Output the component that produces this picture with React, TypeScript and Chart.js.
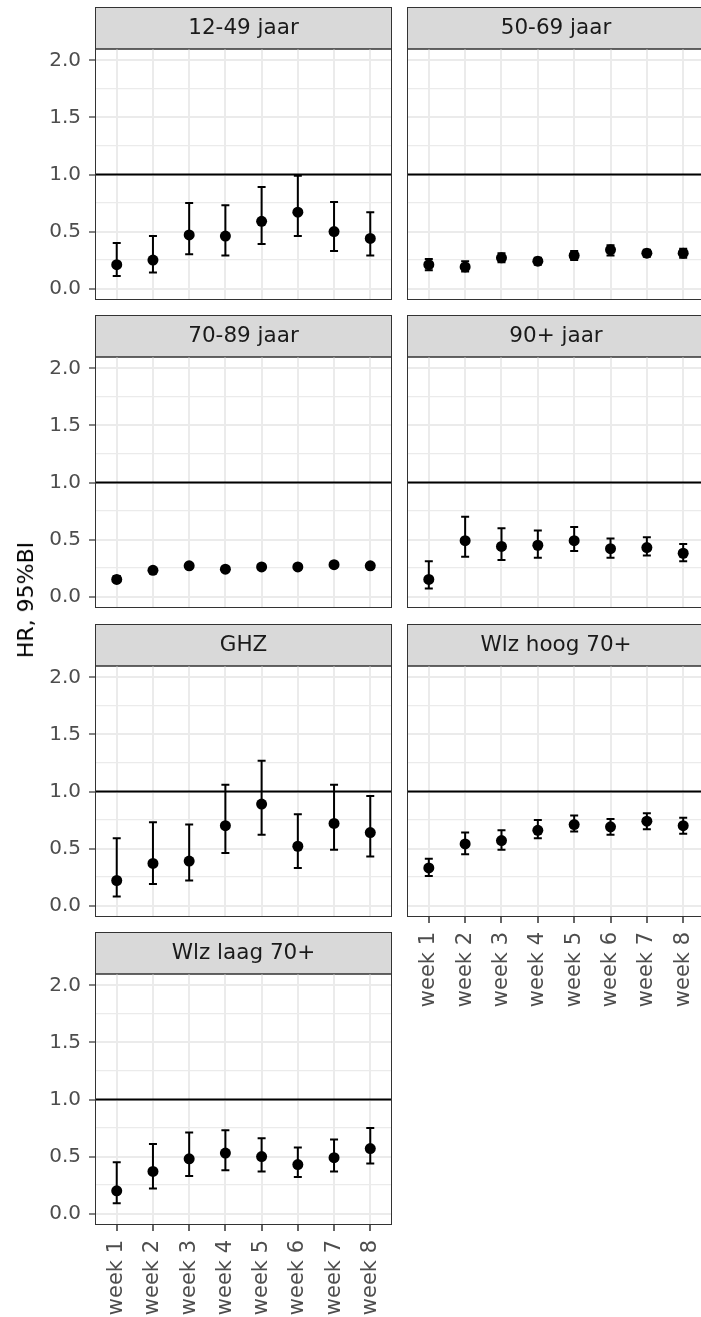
import React, { useEffect, useRef } from "react";
import { Chart, registerables } from "chart.js";

Chart.register(...registerables);

// ---------- data ----------
const WEEKS = ["week 1", "week 2", "week 3", "week 4", "week 5", "week 6", "week 7", "week 8"];
const Y_MAJOR = [0, 0.5, 1.0, 1.5, 2.0];
const Y_MINOR = [0.25, 0.75, 1.25, 1.75];
const REF_LINE = 1.0;
const Y_TITLE = "HR, 95%BI";

const P1_TITLE = "12-49 jaar";
const P1_HR = [0.21, 0.25, 0.47, 0.46, 0.59, 0.67, 0.50, 0.44];
const P1_LO = [0.11, 0.14, 0.30, 0.29, 0.39, 0.46, 0.33, 0.29];
const P1_HI = [0.40, 0.46, 0.75, 0.73, 0.89, 0.99, 0.76, 0.67];

const P2_TITLE = "50-69 jaar";
const P2_HR = [0.21, 0.19, 0.27, 0.24, 0.29, 0.34, 0.31, 0.31];
const P2_LO = [0.16, 0.15, 0.23, 0.21, 0.25, 0.29, 0.28, 0.27];
const P2_HI = [0.26, 0.24, 0.31, 0.27, 0.33, 0.38, 0.34, 0.35];

const P3_TITLE = "70-89 jaar";
const P3_HR = [0.15, 0.23, 0.27, 0.24, 0.26, 0.26, 0.28, 0.27];
const P3_LO = [0.13, 0.21, 0.25, 0.22, 0.24, 0.24, 0.26, 0.25];
const P3_HI = [0.18, 0.25, 0.29, 0.26, 0.28, 0.28, 0.30, 0.29];

const P4_TITLE = "90+ jaar";
const P4_HR = [0.15, 0.49, 0.44, 0.45, 0.49, 0.42, 0.43, 0.38];
const P4_LO = [0.07, 0.35, 0.32, 0.34, 0.40, 0.34, 0.36, 0.31];
const P4_HI = [0.31, 0.70, 0.60, 0.58, 0.61, 0.51, 0.52, 0.46];

const P5_TITLE = "GHZ";
const P5_HR = [0.22, 0.37, 0.39, 0.70, 0.89, 0.52, 0.72, 0.64];
const P5_LO = [0.08, 0.19, 0.22, 0.46, 0.62, 0.33, 0.49, 0.43];
const P5_HI = [0.59, 0.73, 0.71, 1.06, 1.27, 0.80, 1.06, 0.96];

const P6_TITLE = "Wlz hoog 70+";
const P6_HR = [0.33, 0.54, 0.57, 0.66, 0.71, 0.69, 0.74, 0.70];
const P6_LO = [0.26, 0.45, 0.49, 0.59, 0.65, 0.62, 0.67, 0.63];
const P6_HI = [0.41, 0.64, 0.66, 0.75, 0.79, 0.76, 0.81, 0.77];

const P7_TITLE = "Wlz laag 70+";
const P7_HR = [0.20, 0.37, 0.48, 0.53, 0.50, 0.43, 0.49, 0.57];
const P7_LO = [0.09, 0.22, 0.33, 0.38, 0.37, 0.32, 0.37, 0.44];
const P7_HI = [0.45, 0.61, 0.71, 0.73, 0.66, 0.58, 0.65, 0.75];

// ---------- layout / style ----------
const FONT = "'DejaVu Sans', 'Liberation Sans', sans-serif";
const X_MIN = 0.4;
const X_MAX = 8.6;
const Y_MIN = -0.1;
const Y_MAX = 2.1;
const STRIP_H = 42;
const PLOT_H = 251;
const LEFT_X = 0;
const LEFT_W = 393;
const RIGHT_X = 406;
const RIGHT_W = 300;
const ROW_Y = [7, 315, 624, 932];
const PAGE_W = 701;
const PAGE_H = 1317;
const STRIP_FONT = 21.5;

type PanelData = { title: string; hr: number[]; lo: number[]; hi: number[] };
type Box = { x: number; y: number; w: number; h: number; showX: boolean; showY: boolean };

const PANELS: PanelData[] = [
  { title: P1_TITLE, hr: P1_HR, lo: P1_LO, hi: P1_HI },
  { title: P2_TITLE, hr: P2_HR, lo: P2_LO, hi: P2_HI },
  { title: P3_TITLE, hr: P3_HR, lo: P3_LO, hi: P3_HI },
  { title: P4_TITLE, hr: P4_HR, lo: P4_LO, hi: P4_HI },
  { title: P5_TITLE, hr: P5_HR, lo: P5_LO, hi: P5_HI },
  { title: P6_TITLE, hr: P6_HR, lo: P6_LO, hi: P6_HI },
  { title: P7_TITLE, hr: P7_HR, lo: P7_LO, hi: P7_HI },
];

const BASE_H = STRIP_H + PLOT_H + 1;
const BOXES: Box[] = [
  { x: LEFT_X, y: ROW_Y[0], w: LEFT_W, h: BASE_H, showX: false, showY: true },
  { x: RIGHT_X, y: ROW_Y[0], w: RIGHT_W, h: BASE_H, showX: false, showY: false },
  { x: LEFT_X, y: ROW_Y[1], w: LEFT_W, h: BASE_H, showX: false, showY: true },
  { x: RIGHT_X, y: ROW_Y[1], w: RIGHT_W, h: BASE_H, showX: false, showY: false },
  { x: LEFT_X, y: ROW_Y[2], w: LEFT_W, h: BASE_H, showX: false, showY: true },
  { x: RIGHT_X, y: ROW_Y[2], w: RIGHT_W, h: PAGE_H - ROW_Y[2], showX: true, showY: false },
  { x: LEFT_X, y: ROW_Y[3], w: LEFT_W, h: PAGE_H - ROW_Y[3], showX: true, showY: true },
];

const isMajor = (v: number) => Y_MAJOR.some((m) => Math.abs(m - v) < 1e-9);

const panelDeco = {
  id: "panelDeco",
  beforeDraw(chart: any) {
    const { ctx, chartArea: a } = chart;
    ctx.save();
    ctx.fillStyle = "#ffffff";
    ctx.fillRect(a.left, a.top, a.right - a.left, a.bottom - a.top);
    ctx.fillStyle = "#D9D9D9";
    ctx.fillRect(a.left, 0, a.right - a.left, a.top);
    ctx.strokeStyle = "#333333";
    ctx.lineWidth = 1;
    ctx.strokeRect(a.left + 0.5, 0.5, a.right - a.left - 1, a.top - 0.5);
    ctx.restore();
  },
  beforeDatasetsDraw(chart: any, _args: any, opts: any) {
    const { ctx } = chart;
    const xs = chart.scales.x;
    const ys = chart.scales.y;
    const lo: number[] = opts.lo || [];
    const hi: number[] = opts.hi || [];
    ctx.save();
    ctx.strokeStyle = "#000000";
    ctx.lineWidth = 2;
    ctx.lineCap = "butt";
    for (let i = 0; i < lo.length; i++) {
      const px = xs.getPixelForValue(i + 1);
      const pLo = ys.getPixelForValue(lo[i]);
      const pHi = ys.getPixelForValue(hi[i]);
      ctx.beginPath();
      ctx.moveTo(px, pLo);
      ctx.lineTo(px, pHi);
      ctx.moveTo(px - 4, pLo);
      ctx.lineTo(px + 4, pLo);
      ctx.moveTo(px - 4, pHi);
      ctx.lineTo(px + 4, pHi);
      ctx.stroke();
    }
    ctx.restore();
  },
  afterDraw(chart: any) {
    const { ctx, chartArea: a } = chart;
    ctx.save();
    ctx.strokeStyle = "#333333";
    ctx.lineWidth = 1;
    ctx.strokeRect(a.left + 0.5, a.top, a.right - a.left - 1, a.bottom - a.top - 0.5);
    ctx.restore();
  },
};

function makeConfig(p: PanelData, box: Box): any {
  const xAxisH = box.h - STRIP_H - PLOT_H;
  return {
    type: "scatter",
    data: {
      datasets: [
        {
          type: "line",
          data: [
            { x: X_MIN, y: REF_LINE },
            { x: X_MAX, y: REF_LINE },
          ],
          borderColor: "#000000",
          borderWidth: 2,
          pointRadius: 0,
          order: 1,
        },
        {
          type: "scatter",
          data: p.hr.map((v, i) => ({ x: i + 1, y: v })),
          backgroundColor: "#000000",
          borderColor: "#000000",
          borderWidth: 0,
          pointRadius: 5.5,
          pointHoverRadius: 5.5,
          order: 0,
        },
      ],
    },
    options: {
      responsive: false,
      animation: false,
      events: [],
      layout: {
        autoPadding: false,
        padding: { left: box.showY ? 0 : 1, right: 1, top: 0, bottom: box.showX ? 0 : 1 },
      },
      plugins: {
        legend: { display: false },
        tooltip: { enabled: false },
        title: {
          display: true,
          text: p.title,
          position: "top",
          fullSize: false,
          align: "center",
          color: "#1A1A1A",
          font: { family: FONT, size: STRIP_FONT, weight: "normal", lineHeight: 24 / STRIP_FONT },
          padding: { top: 9, bottom: 9 },
        },
        panelDeco: { lo: p.lo, hi: p.hi },
      },
      scales: {
        x: {
          type: "linear",
          min: X_MIN,
          max: X_MAX,
          afterBuildTicks: (s: any) => {
            s.ticks = WEEKS.map((_, i) => ({ value: i + 1 }));
          },
          afterFit: (s: any) => {
            s.height = box.showX ? xAxisH : 0;
            s.paddingLeft = 0;
            s.paddingRight = 0;
            s.paddingTop = 0;
            s.paddingBottom = 0;
          },
          ticks: {
            display: box.showX,
            autoSkip: false,
            maxRotation: 90,
            minRotation: 90,
            padding: 9,
            color: "#4D4D4D",
            font: { family: FONT, size: 21 },
            callback: (_v: any, i: number) => WEEKS[i],
          },
          grid: {
            color: "#EBEBEB",
            lineWidth: 2,
            drawTicks: box.showX,
            tickLength: 6,
            tickColor: "#333333",
            tickWidth: 1.5,
          },
          border: { display: false },
        },
        y: {
          type: "linear",
          min: Y_MIN,
          max: Y_MAX,
          afterBuildTicks: (s: any) => {
            s.ticks = [...Y_MAJOR, ...Y_MINOR].sort((a, b) => a - b).map((v) => ({ value: v }));
          },
          afterFit: (s: any) => {
            s.width = box.showY ? 95 : 0;
            s.paddingLeft = 0;
            s.paddingRight = 0;
            s.paddingTop = 0;
            s.paddingBottom = 0;
          },
          ticks: {
            display: box.showY,
            padding: 8,
            color: "#4D4D4D",
            font: { family: FONT, size: 20 },
            callback: (v: any) => (isMajor(Number(v)) ? Number(v).toFixed(1) : ""),
          },
          grid: {
            color: "#EBEBEB",
            lineWidth: (ctx: any) => (ctx.tick && isMajor(ctx.tick.value) ? 2 : 1.2),
            drawTicks: box.showY,
            tickLength: 6,
            tickColor: (ctx: any) => (ctx.tick && isMajor(ctx.tick.value) ? "#333333" : "rgba(0,0,0,0)"),
            tickWidth: 1.2,
          },
          border: { display: false },
        },
      },
    },
    plugins: [panelDeco],
  };
}

function Panel({ panel, box }: { panel: PanelData; box: Box }) {
  const ref = useRef<HTMLCanvasElement | null>(null);
  useEffect(() => {
    if (!ref.current) return;
    const chart = new Chart(ref.current, makeConfig(panel, box));
    return () => chart.destroy();
  }, [panel, box]);
  return (
    <canvas
      ref={ref}
      width={box.w}
      height={box.h}
      style={{ position: "absolute", left: box.x, top: box.y, width: box.w, height: box.h, display: "block" }}
    />
  );
}

export default function App() {
  return (
    <div
      style={{
        position: "fixed",
        left: 0,
        top: 0,
        width: PAGE_W,
        height: PAGE_H,
        overflow: "hidden",
        background: "#ffffff",
      }}
    >
      {PANELS.map((p, i) => (
        <Panel key={p.title} panel={p} box={BOXES[i]} />
      ))}
      <div
        style={{
          position: "absolute",
          left: 25.5,
          top: 600,
          transform: "translate(-50%, -50%) rotate(-90deg)",
          whiteSpace: "nowrap",
          fontFamily: FONT,
          fontSize: 22,
          color: "#000000",
          lineHeight: 1,
        }}
      >
        {Y_TITLE}
      </div>
    </div>
  );
}
